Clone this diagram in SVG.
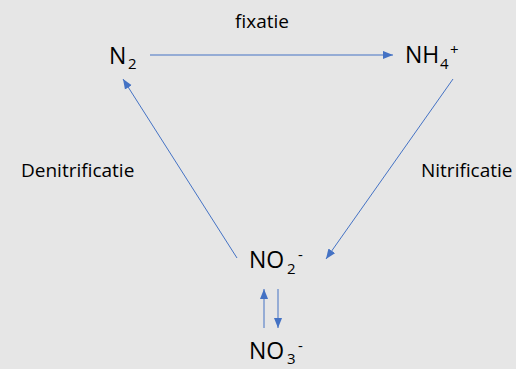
<svg xmlns="http://www.w3.org/2000/svg" width="516" height="369" viewBox="0 0 516 369">
<defs>
<style>
.t{font-family:"Open Sans","Liberation Sans",sans-serif;fill:#000}
.big{font-size:23px}
.sub{font-size:15px}
.lab{font-size:19px}
.c{stroke:#4472c4;stroke-width:1;fill:none}
</style>
<marker id="a" viewBox="0 0 10 10" refX="10" refY="5" markerWidth="10" markerHeight="9" markerUnits="userSpaceOnUse" orient="auto" preserveAspectRatio="none"><path d="M0,0.5 L10,5 L0,9.5 z" fill="#4472c4"/></marker>
</defs>
<rect width="516" height="369" fill="#e6e6e6"/>
<g id="connectors">
<line class="c" x1="150" y1="55" x2="393" y2="55" marker-end="url(#a)"/>
<line class="c" x1="453" y1="79" x2="326" y2="259" marker-end="url(#a)"/>
<line class="c" x1="237" y1="258" x2="123" y2="79" marker-end="url(#a)"/>
<line class="c" x1="264" y1="328" x2="264" y2="289" marker-end="url(#a)"/>
<line class="c" x1="278" y1="289" x2="278" y2="328" marker-end="url(#a)"/>
</g>
<g id="n2"><text class="t big" x="109" y="64">N</text><text class="t sub" x="128" y="69">2</text></g>
<g id="nh4"><text class="t big" x="405" y="63">NH</text><text class="t sub" x="440" y="69">4</text><text class="t sub" x="450" y="55">+</text></g>
<g id="no2"><text class="t big" x="249" y="268">NO</text><text class="t sub" x="287" y="274">2</text><text class="t sub" x="298" y="260">-</text></g>
<g id="no3"><text class="t big" x="249" y="359">NO</text><text class="t sub" x="287" y="364">3</text><text class="t sub" x="298" y="351">-</text></g>
<g id="labels">
<text class="t lab" x="235" y="28">fixatie</text>
<text class="t lab" x="21" y="177">Denitrificatie</text>
<text class="t lab" x="421" y="177">Nitrificatie</text>
</g>
</svg>
